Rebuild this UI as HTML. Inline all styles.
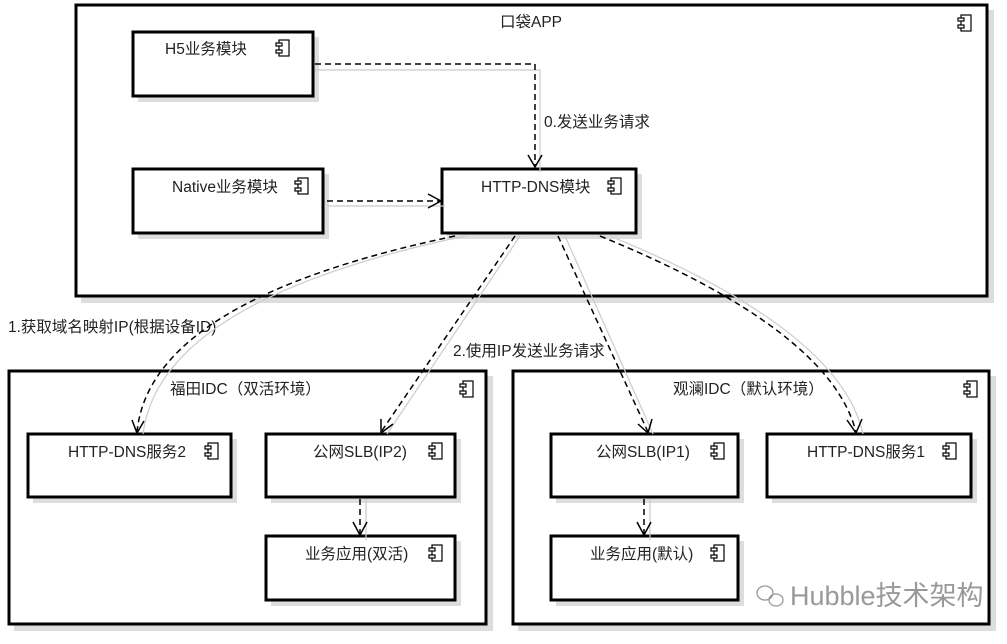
<!DOCTYPE html>
<html><head><meta charset="utf-8"><style>
body{margin:0;background:#fff;}
svg text{font-family:"Liberation Sans","Noto Sans CJK SC",sans-serif;font-size:15.5px;fill:#222;}
</style></head><body>
<svg width="1007" height="639" viewBox="0 0 1007 639" xmlns="http://www.w3.org/2000/svg">
<defs>
<g id="ic"><rect x="3" y="0" width="10" height="16" fill="#fff" stroke="#000" stroke-width="1.2"/><rect x="0" y="3" width="6" height="3" fill="#fff" stroke="#000" stroke-width="1.2"/><rect x="0" y="10" width="6" height="3" fill="#fff" stroke="#000" stroke-width="1.2"/></g>
</defs>
<g fill="#ddd">
<rect x="81" y="10" width="913" height="293"/>
<rect x="14" y="376" width="479" height="255"/>
<rect x="518" y="376" width="478" height="255"/>
</g>
<g fill="#fff" stroke="#000" stroke-width="3">
<rect x="76" y="5" width="911" height="291"/>
<rect x="9" y="371" width="477" height="253"/>
<rect x="513" y="371" width="476" height="253"/>
</g>
<g fill="#ddd">
<rect x="138" y="37" width="181" height="65"/>
<rect x="138" y="174" width="191" height="65"/>
<rect x="447" y="174" width="195" height="65"/>
<rect x="33" y="439" width="204" height="64"/>
<rect x="271" y="439" width="190" height="64"/>
<rect x="271" y="541" width="190" height="65"/>
<rect x="556" y="439" width="188" height="64"/>
<rect x="772" y="439" width="205" height="64"/>
<rect x="556" y="541" width="188" height="65"/>
</g>
<g fill="#fff" stroke="#000" stroke-width="3">
<rect x="133" y="32" width="180" height="64"/>
<rect x="133" y="169" width="190" height="64"/>
<rect x="442" y="169" width="194" height="64"/>
<rect x="28" y="434" width="203" height="63"/>
<rect x="266" y="434" width="189" height="63"/>
<rect x="266" y="536" width="189" height="64"/>
<rect x="551" y="434" width="187" height="63"/>
<rect x="767" y="434" width="204" height="63"/>
<rect x="551" y="536" width="187" height="64"/>
</g>
<use href="#ic" x="958" y="15"/>
<use href="#ic" x="460" y="381"/>
<use href="#ic" x="964" y="381"/>
<use href="#ic" x="276" y="40"/>
<use href="#ic" x="295" y="178"/>
<use href="#ic" x="608" y="178"/>
<use href="#ic" x="205" y="443"/>
<use href="#ic" x="429" y="443"/>
<use href="#ic" x="429" y="545"/>
<use href="#ic" x="711" y="443"/>
<use href="#ic" x="943" y="443"/>
<use href="#ic" x="711" y="545"/>
<text x="500" y="27">口袋APP</text>
<text x="165" y="54">H5业务模块</text>
<text x="172" y="192">Native业务模块</text>
<text x="481" y="192">HTTP-DNS模块</text>
<text x="544" y="127">0.发送业务请求</text>
<text x="8" y="332">1.获取域名映射IP(根据设备ID)</text>
<text x="453" y="356">2.使用IP发送业务请求</text>
<text x="170" y="394">福田IDC（双活环境）</text>
<text x="673" y="394">观澜IDC（默认环境）</text>
<text x="68" y="457">HTTP-DNS服务2</text>
<text x="313" y="457">公网SLB(IP2)</text>
<text x="305" y="559">业务应用(双活)</text>
<text x="596" y="457">公网SLB(IP1)</text>
<text x="807" y="457">HTTP-DNS服务1</text>
<text x="590" y="559">业务应用(默认)</text>
<g fill="none" stroke="#ccc" stroke-width="1.2">
<path d="M315 70 L540 70 L540 172"/>
<path d="M327 206 L445 206"/>
<path d="M465 236 Q160 300 143 434"/>
<path d="M520 236 L387 434"/>
<path d="M565 236 L653 434"/>
<path d="M610 236 Q840 330 863 434"/>
<path d="M366 499 L366 540"/>
<path d="M650 499 L650 540"/>
</g>
<g fill="none" stroke="#000" stroke-width="1.5" stroke-dasharray="6,4">
<path d="M315 64 L535 64 L535 166"/>
<path d="M327 201 L440 201"/>
<path d="M455 236 Q150 300 137 432"/>
<path d="M515 236 L381 432"/>
<path d="M558 236 L648 432"/>
<path d="M600 236 Q830 330 856 432"/>
<path d="M360 499 L360 534"/>
<path d="M644 499 L644 534"/>
</g>
<g fill="none" stroke="#000" stroke-width="1.5">
<path d="M528 155 L535 167 L542 155"/>
<path d="M428 194 L441 201 L428 208"/>
<path d="M132 420 L137 433 L144 421"/>
<path d="M381 419 L381 433 L393 424"/>
<path d="M638 424 L648 433 L652 419"/>
<path d="M847 420 L856 433 L862 419"/>
<path d="M353 522 L360 535 L367 522"/>
<path d="M637 522 L644 535 L651 522"/>
</g>
<g fill="none" stroke="#999" stroke-width="1.3">
<ellipse cx="765" cy="593" rx="8" ry="7"/>
<ellipse cx="776" cy="600" rx="7" ry="6"/>
</g>
<text x="790" y="605" style="font-size:27px;fill:#999">Hubble技术架构</text>
</svg>
</body></html>
